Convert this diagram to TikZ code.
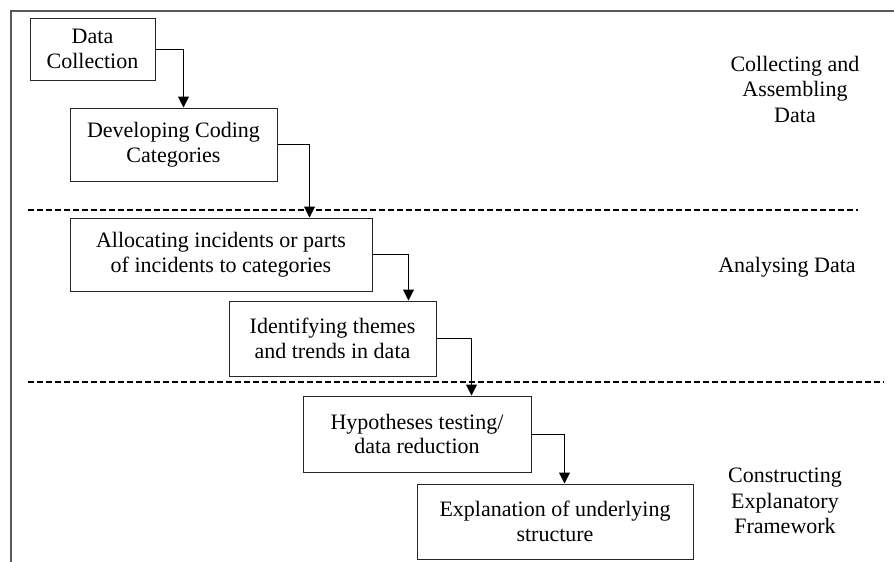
\documentclass[tikz,border=0pt]{standalone}
\usepackage{fontspec}
\setmainfont{Liberation Serif}
\usetikzlibrary{arrows.meta}
\tikzset{
  box/.style={draw=black!85, line width=1pt, inner sep=0pt, align=center,
    font=\fontsize{22}{24.5}\selectfont},
  lab/.style={inner sep=0pt, align=center, font=\fontsize{22}{25.5}\selectfont},
  arr/.style={line width=1pt, -{Triangle[width=11pt,length=11pt]}},
  sep/.style={line width=2pt, dash pattern=on 6pt off 3pt},
  frame/.style={line width=1.3pt, draw=black!65}
}
\begin{document}
\begin{tikzpicture}[x=1pt,y=-1pt]
\useasboundingbox (0,0) rectangle (894,562);
% frame
\coordinate (fbl) at (11,562);
\coordinate (ftl) at (11,11);
\coordinate (ftr) at (894,11);
\draw[frame] (fbl) -- (ftl) -- (ftr);
% separators
\coordinate (s1a) at (28,210);
\coordinate (s1b) at (858,210);
\coordinate (s2a) at (28,382);
\coordinate (s2b) at (884,382);
\draw[sep] (s1a) -- (s1b);
\draw[sep] (s2a) -- (s2b);
% boxes
\node[box, minimum width=125, minimum height=62] (dc) at (92.5,49) {Data\\Collection};
\node[box, minimum width=207, minimum height=73] (dcc) at (173.5,144.5) {Developing Coding\\Categories};
\node[box, minimum width=302, minimum height=73] (alloc) at (221,254.5) {Allocating incidents or parts\\of incidents to categories};
\node[box, minimum width=207, minimum height=75] (ident) at (332.5,338.5) {Identifying themes\\and trends in data};
\node[box, minimum width=228, minimum height=76] (hyp) at (417,434) {Hypotheses testing/\\data reduction};
\node[box, minimum width=276, minimum height=75] (expl) at (555,521.5) {Explanation of underlying\\structure};
% labels
\node[lab] (l1) at (795,89) {Collecting and\\Assembling\\Data};
\node[lab] (l2) at (787,267) {Analysing Data};
\node[lab] (l3) at (785,501) {Constructing\\Explanatory\\Framework};
% arrows
\draw[arr] (dc.east) -| ([xshift=114pt]dcc.north west);
\draw[arr] (dcc.east) -| ([xshift=240pt]alloc.north west);
\draw[arr] (alloc.east) -| ([xshift=180pt]ident.north west);
\draw[arr] (ident.east) -| ([xshift=169pt]hyp.north west);
\draw[arr] (hyp.east) -| ([xshift=148pt]expl.north west);
\end{tikzpicture}
\end{document}
